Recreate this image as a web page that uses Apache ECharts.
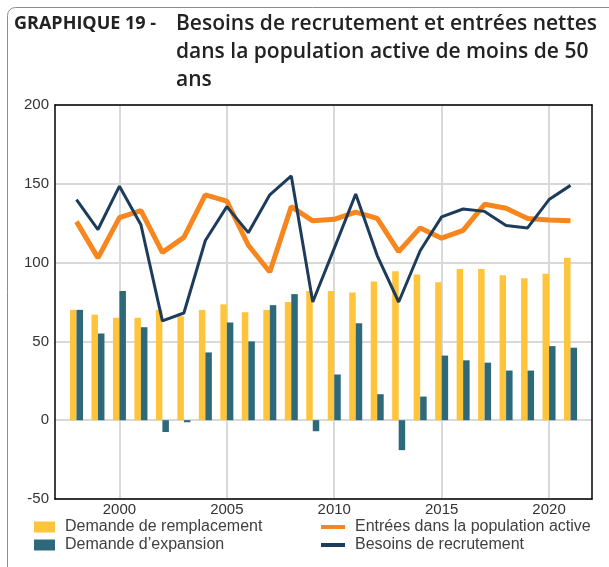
<!DOCTYPE html>
<html>
<head>
<meta charset="utf-8">
<script src="https://cdn.jsdelivr.net/npm/echarts@6/dist/echarts.min.js"></script>
<style>
  html, body { margin: 0; padding: 0; background: #fff; }
  #chart { width: 609px; height: 567px; }
  #log { position: absolute; left: 60px; top: 440px; width: 520px; font: 10px monospace; color: #c00; }
</style>
</head>
<body>
<div id="chart"></div>
<div id="log"></div>
<script>
// affiche les erreurs éventuelles
var logDiv = document.getElementById('log');
window.onerror = function (msg, src, line, col) { logDiv.textContent += 'ERR ' + msg + ' @' + line + ':' + col + ' | '; };

// années (1997 et 2022 servent seulement de bornes à l'axe)
var years = ['1997', '1998', '1999', '2000', '2001', '2002', '2003', '2004', '2005', '2006', '2007', '2008',
    '2009', '2010', '2011', '2012', '2013', '2014', '2015', '2016', '2017', '2018', '2019', '2020', '2021', '2022'];
// Demande de remplacement
var remplacement = [null, 70, 67, 65, 65, 70, 66, 70, 73.5, 68.5, 70, 75, 82, 82, 81, 88, 94.5, 92.5, 87.5, 96, 96, 92, 90, 93, 103, null];
// Demande d'expansion
var expansion = [null, 70, 55, 82, 59, -7.5, -1.3, 43, 62, 50, 73, 80, -7, 29, 61.5, 16.5, -19, 15, 41, 38, 36.5, 31.5, 31.5, 47, 46, null];
// Entrées dans la population active
var entrees = [null, 126, 103, 128.5, 133, 106.5, 116, 143, 139, 111, 94, 135.5, 126.5, 127.5, 132, 128, 107, 122, 115.5, 120.5, 137, 134.5, 128, 127, 126.5, null];
// Besoins de recrutement
var besoins = [null, 140, 121, 148.5, 124, 63, 68, 114, 135.5, 119, 143, 155, 75, 109, 143.5, 104.5, 75, 107.5, 129, 134, 132.5, 123.5, 122, 140, 149, null];

var myChart = echarts.init(document.getElementById('chart'));

function everyFive(index, value) {
    return Number(value) % 5 === 0;
}

var trait = { show: true, onZero: false, lineStyle: { color: '#000', width: 1.5 } };
var sansTrait = { show: true, length: 0 };
var txt = { fontFamily: 'Liberation Sans', fontSize: 16, color: '#404040', lineHeight: 18, padding: [0, 0, 0, 5] };

var option = {
    animation: false,
    graphic: [{
        type: 'rect',
        shape: { x: 7.5, y: 7.5, width: 620, height: 620, r: 8 },
        style: { fill: 'none', stroke: '#8c8c8c', lineWidth: 1 },
        silent: true
    }],
    title: [{
        text: 'GRAPHIQUE 19 -',
        left: 14,
        top: 14,
        padding: 0,
        textStyle: { fontFamily: 'Open Sans', fontSize: 18, fontWeight: 'bold', color: '#222', lineHeight: 20 }
    }, {
        text: 'Besoins de recrutement et entrées nettes\ndans la population active de moins de 50\nans',
        left: 176,
        top: 10,
        padding: 0,
        textStyle: { fontFamily: 'Open Sans', fontSize: 21, fontWeight: 600, color: '#222', lineHeight: 28 }
    }],
    legend: [{
        left: 34,
        top: 518,
        padding: 0,
        orient: 'vertical',
        itemWidth: 21,
        itemHeight: 11,
        itemGap: 0,
        icon: 'rect',
        data: ['Demande de remplacement', 'Demande d\u2019expansion'],
        textStyle: txt
    }, {
        left: 321,
        top: 518,
        padding: 0,
        orient: 'vertical',
        itemWidth: 24,
        itemHeight: 4,
        itemGap: 0,
        icon: 'rect',
        data: ['Entrées dans la population active', 'Besoins de recrutement'],
        textStyle: txt
    }],
    grid: { left: 55, right: 17, top: 105, bottom: 68 },
    xAxis: [{
        type: 'category',
        data: years,
        boundaryGap: false,
        axisLine: trait,
        axisTick: sansTrait,
        axisLabel: {
            interval: everyFive,
            margin: 3,
            fontFamily: 'Liberation Sans',
            fontSize: 15,
            color: '#333'
        },
        splitLine: {
            show: true,
            interval: everyFive,
            lineStyle: { color: '#d9d9d9', width: 2 }
        }
    }, {
        type: 'category',
        position: 'top',
        data: years,
        boundaryGap: false,
        axisLine: trait,
        axisTick: sansTrait,
        axisLabel: { show: false },
        splitLine: { show: false }
    }],
    yAxis: [{
        type: 'value',
        min: -50,
        max: 200,
        interval: 50,
        axisLine: trait,
        axisTick: sansTrait,
        axisLabel: {
            margin: 6,
            padding: [0, 0, 8, 0],
            fontFamily: 'Liberation Sans',
            fontSize: 15,
            color: '#333'
        },
        splitLine: {
            show: true,
            lineStyle: { color: '#d9d9d9', width: 2 }
        }
    }, {
        type: 'value',
        position: 'right',
        min: -50,
        max: 200,
        interval: 50,
        axisLine: trait,
        axisTick: sansTrait,
        axisLabel: { show: false },
        splitLine: { show: false }
    }],
    series: [{
        name: 'Demande de remplacement',
        type: 'bar',
        data: remplacement,
        barWidth: 6.5,
        barGap: '0%',
        itemStyle: { color: '#fec53c' }
    }, {
        name: 'Demande d\u2019expansion',
        type: 'bar',
        data: expansion,
        barWidth: 6.5,
        barGap: '0%',
        itemStyle: { color: '#2e687b' }
    }, {
        name: 'Entrées dans la population active',
        type: 'line',
        data: entrees,
        showSymbol: false,
        symbol: 'none',
        itemStyle: { color: '#f7861f' },
        lineStyle: { color: '#f7861f', width: 5 }
    }, {
        name: 'Besoins de recrutement',
        type: 'line',
        data: besoins,
        showSymbol: false,
        symbol: 'none',
        itemStyle: { color: '#1d3c5b' },
        lineStyle: { color: '#1d3c5b', width: 3 }
    }]
};
myChart.setOption(option);
</script>
</body>
</html>
